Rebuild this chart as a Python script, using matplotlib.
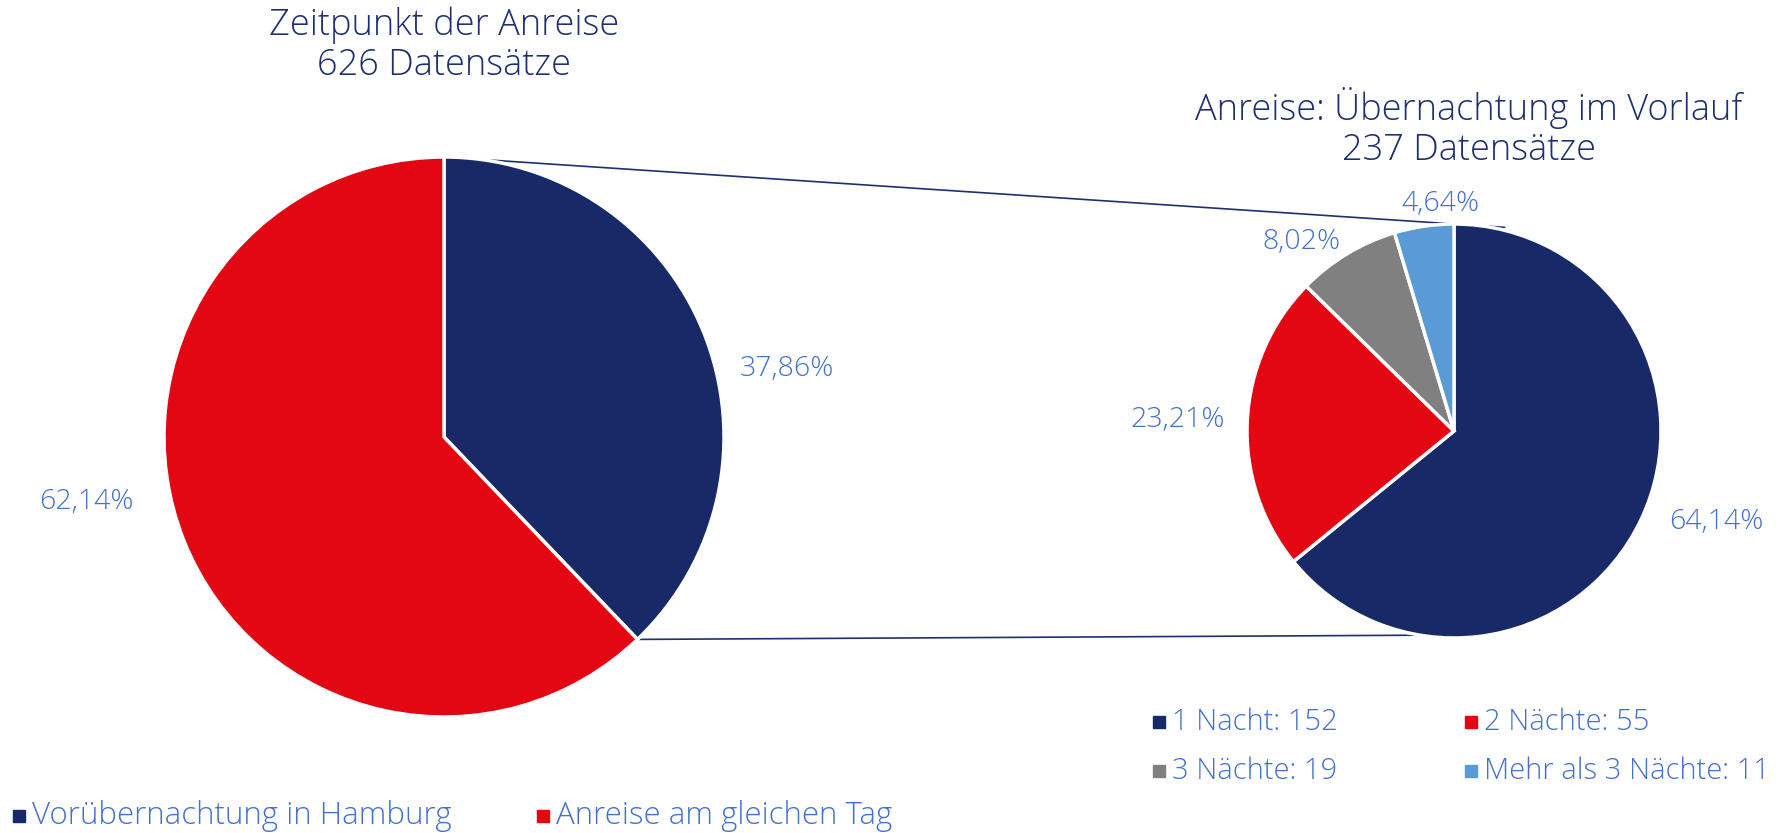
import matplotlib.pyplot as plt
import numpy as np

# Daten
links_labels = ['Vorübernachtung in Hamburg', 'Anreise am gleichen Tag']
links_werte = [237, 389]
links_farben = ['#172A67', '#E30613']

rechts_labels = ['1 Nacht', '2 Nächte', '3 Nächte', 'Mehr als 3 Nächte']
rechts_werte = [152, 55, 19, 11]
rechts_farben = ['#172A67', '#E30613', '#808080', '#5B9BD5']

titel_links = 'Zeitpunkt der Anreise\n626 Datensätze'
titel_rechts = 'Anreise: Übernachtung im Vorlauf\n237 Datensätze'

TXT = '#4470D0'
TITEL = '#1F3070'
FONT = ['Open Sans', 'DejaVu Sans']

W, H = 1780, 833
fig = plt.figure(figsize=(W / 100, H / 100), dpi=100)
ax = fig.add_axes([0, 0, 1, 1])
ax.set_xlim(0, W)
ax.set_ylim(0, H)
ax.set_aspect('equal')
ax.axis('off')

c1, r1 = (444, 396), 280
c2, r2 = (1454, 402), 207

wp = dict(edgecolor='white', linewidth=2.5)
ax.pie(links_werte, colors=links_farben, startangle=90, counterclock=False,
       center=c1, radius=r1, wedgeprops=wp, frame=True)
ax.pie(rechts_werte, colors=rechts_farben, startangle=90, counterclock=False,
       center=c2, radius=r2, wedgeprops=wp, frame=True)
ax.set_xlim(0, W)
ax.set_ylim(0, H)
ax.axis('off')

# Verbindungslinien
top1 = (c1[0], c1[1] + r1)
top2 = (c2[0], c2[1] + r2)
d = np.array(top2) - np.array(top1)
ende = np.array(top2) + d * 0.05
ax.plot([top1[0], ende[0]], [top1[1], ende[1]], color='#1F3070', lw=1.2, zorder=0)
ang = np.deg2rad(90 - 360 * links_werte[0] / sum(links_werte))
p1 = (c1[0] + r1 * np.cos(ang), c1[1] + r1 * np.sin(ang))
ax.plot([p1[0], c2[0]], [p1[1], c2[1] - r2 + 3], color='#1F3070', lw=1.2, zorder=0)

def pct(v, tot):
    return f'{100 * v / tot:.2f}%'.replace('.', ',')

tot1 = sum(links_werte)
tot2 = sum(rechts_werte)
pos_links = [(787, 464), (86, 331)]
pos_rechts = [(1716, 311), (1178, 413), (1301, 591), (1440, 629)]
for v, (x, y) in zip(links_werte, pos_links):
    ax.text(x, y, pct(v, tot1), color=TXT, fontsize=20.5, ha='center', va='center',
            family=FONT, fontweight='light')
for v, (x, y) in zip(rechts_werte, pos_rechts):
    ax.text(x, y, pct(v, tot2), color=TXT, fontsize=20.5, ha='center', va='center',
            family=FONT, fontweight='light')

ax.text(444, H - 45, titel_links, color=TITEL, fontsize=26, ha='center', va='center',
        family=FONT, fontweight='light', linespacing=1.1)
ax.text(1469, H - 128, titel_rechts, color=TITEL, fontsize=26, ha='center', va='center',
        family=FONT, fontweight='light', linespacing=1.1)

# Legenden
def leg(x, y, farbe, text, gr):
    ax.plot([x], [y], marker='s', ms=9, color=farbe, ls='none')
    ax.text(x + 13, y, text, color=TXT, fontsize=gr, ha='left', va='center',
            family=FONT, fontweight='light')

leg_links = [(19, H - 816), (543, H - 816)]
for (x, y), f, t in zip(leg_links, links_farben, links_labels):
    leg(x, y, f, t, 22.5)

leg_rechts = [(1159, H - 722), (1471, H - 722), (1159, H - 771), (1471, H - 771)]
for (x, y), f, t, v in zip(leg_rechts, rechts_farben, rechts_labels, rechts_werte):
    leg(x, y, f, f'{t}: {v}', 21)

fig.savefig('out.png', dpi=100, facecolor='white')
